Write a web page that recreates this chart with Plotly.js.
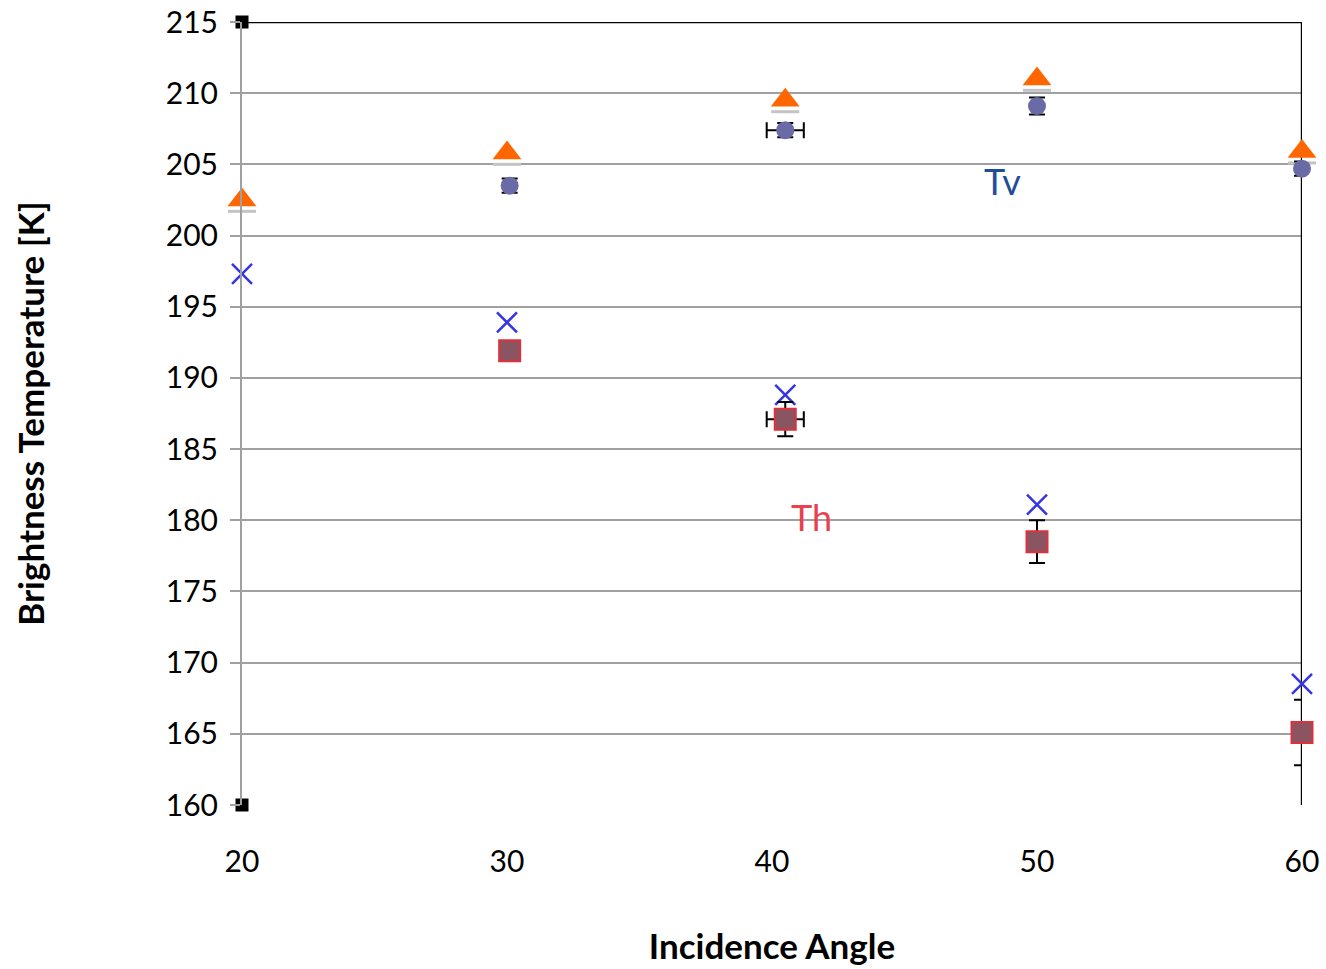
<!DOCTYPE html>
<html>
<head>
<meta charset="utf-8">
<script src="https://cdn.plot.ly/plotly-3.0.1.min.js"></script>
<style>
  html, body { margin: 0; padding: 0; background: #fff; }
  #chart { width: 1326px; height: 969px; }
</style>
</head>
<body>
<div id="chart"></div>
<script>
// Incidence angles (degrees)
const anglesModel = [20, 30, 40.5, 50, 60];
const anglesMeas = [30.1, 40.5, 50, 60];

// Modelled brightness temperatures [K]
const tvModel = [202.5, 205.8, 209.5, 211.0, 205.9];
const tvModelShade = [201.7, 205.0, 208.7, 210.2, 205.1];
const thModel = [197.3, 193.9, 188.8, 181.1, 168.5];

// Measured brightness temperatures [K] with uncertainties
const tvMeas = [203.5, 207.4, 209.1, 204.7];
const tvMeasErr = [0.5, 0.5, 0.6, 0.5];
const thMeas = [191.9, 187.1, 178.5, 165.1];
const thMeasErr = [0.0, 1.2, 1.5, 2.3];
const angleErr = [0.0, 0.7, 0.0, 0.0];

// Plot frame (top and right edges) and corner markers
const frameX = [20, 60, 60];
const frameY = [215, 215, 160];
const cornerX = [20, 20];
const cornerY = [215, 160];

const font = "Lato, 'Open Sans', 'DejaVu Sans', sans-serif";

const traces = [
  {
    x: frameX, y: frameY, mode: 'lines', type: 'scatter',
    line: { color: '#000', width: 2.4 }, hoverinfo: 'skip', cliponaxis: false
  },
  {
    x: cornerX, y: cornerY, mode: 'markers', type: 'scatter',
    marker: { symbol: 'square', size: 13, color: '#000' }, cliponaxis: false
  },
  {
    x: anglesModel, y: tvModelShade, mode: 'markers', type: 'scatter',
    marker: { symbol: 'line-ew', size: 20, line: { color: '#c4c4c4', width: 3 } },
    cliponaxis: false
  },
  {
    x: anglesModel, y: tvModel, mode: 'markers', type: 'scatter',
    marker: { symbol: 'triangle-up', size: 25, color: '#ff6600' },
    cliponaxis: false
  },
  {
    x: anglesMeas, y: tvMeas, mode: 'markers', type: 'scatter',
    marker: { symbol: 'circle', size: 18, color: '#6a6aa6' },
    error_y: { type: 'data', array: tvMeasErr, color: '#000', thickness: 2, width: 8 },
    error_x: { type: 'data', array: angleErr, color: '#000', thickness: 2, width: 8 },
    cliponaxis: false
  },
  {
    x: anglesModel, y: thModel, mode: 'markers', type: 'scatter',
    marker: { symbol: 'x-thin-open', size: 20, color: '#3535e6', line: { color: '#3535e6', width: 2.5 } },
    cliponaxis: false
  },
  {
    x: anglesMeas, y: thMeas, mode: 'markers', type: 'scatter',
    marker: { symbol: 'square', size: 21, color: '#8a5560', line: { color: '#e0303c', width: 2 } },
    error_y: { type: 'data', array: thMeasErr, color: '#000', thickness: 2, width: 8 },
    error_x: { type: 'data', array: angleErr, color: '#000', thickness: 2, width: 8 },
    cliponaxis: false
  }
];

const layout = {
  width: 1326, height: 969,
  paper_bgcolor: '#fff', plot_bgcolor: '#fff',
  showlegend: false,
  margin: { l: 242, r: 24, t: 22, b: 164 },
  font: { family: font, size: 30, color: '#000' },
  xaxis: {
    range: [20, 60], tickvals: [20, 30, 40, 50, 60], ticktext: ['20', '30', '40', '50', '60'],
    showgrid: false, zeroline: false, showline: false, ticks: '',
    ticklabelstandoff: 36,
    tickfont: { family: font, size: 30 },
    title: { text: '<b>Incidence Angle</b>', font: { family: font, size: 35 }, standoff: 57 }
  },
  yaxis: {
    range: [160, 215], tickvals: [160,165,170,175,180,185,190,195,200,205,210,215],
    showgrid: true, gridcolor: '#a0a0a0', gridwidth: 2,
    zeroline: false, showline: true, linecolor: '#a0a0a0', linewidth: 2,
    ticks: 'outside', ticklen: 10, tickcolor: '#a0a0a0', tickwidth: 2,
    ticklabelstandoff: 6,
    tickfont: { family: font, size: 30 },
    title: { text: '<b>Brightness Temperature [K]</b>', font: { family: font, size: 35 }, standoff: 111 }
  },
  annotations: [
    { x: 48.7, y: 203.8, xref: 'x', yref: 'y', text: 'Tv', showarrow: false,
      font: { family: font, size: 36, color: '#1f4e99' } },
    { x: 41.5, y: 180.2, xref: 'x', yref: 'y', text: 'Th', showarrow: false,
      font: { family: font, size: 36, color: '#e8404e' } }
  ]
};

Plotly.newPlot('chart', traces, layout, { staticPlot: true, displayModeBar: false });
</script>
</body>
</html>
